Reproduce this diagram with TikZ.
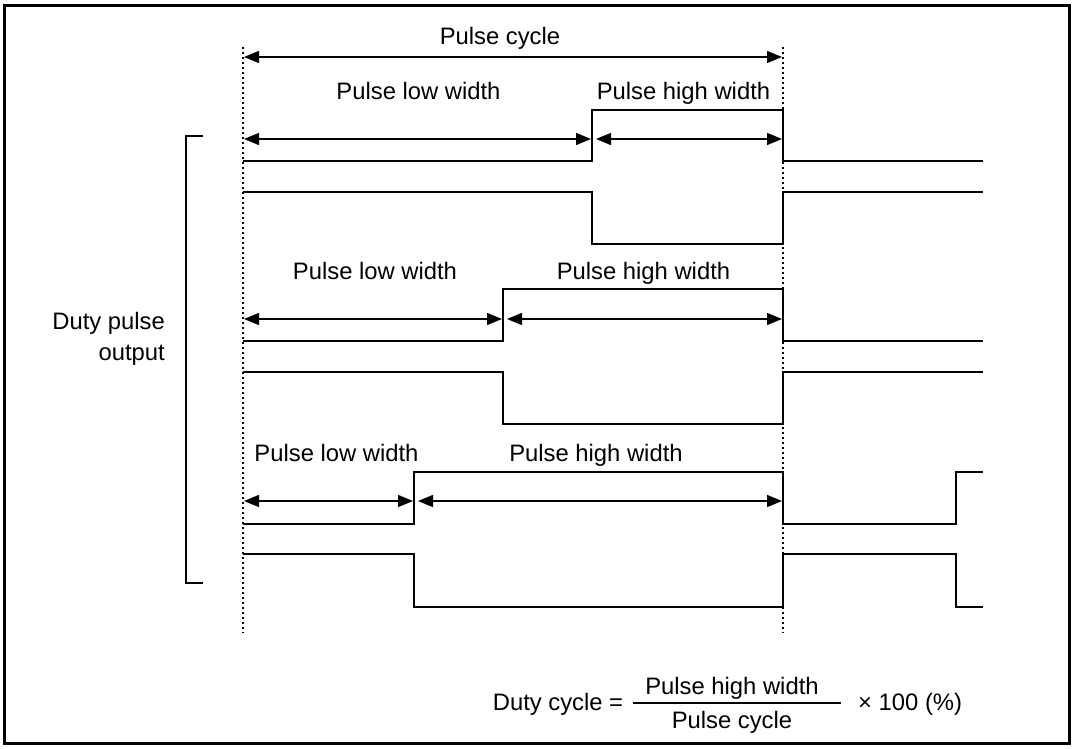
\documentclass[tikz,border=0pt]{standalone}
\usepackage{fontspec}
\setmainfont{Liberation Sans}
\usetikzlibrary{arrows.meta}
\begin{document}
\begin{tikzpicture}[x=1pt,y=-1pt,
  sig/.style={line width=1.6pt},
  dimline/.style={line width=1.4pt,{Triangle[length=15pt,width=12pt]}-{Triangle[length=15pt,width=12pt]}},
  guide/.style={line width=1.6pt,dash pattern=on 2pt off 3pt},
  lbl/.style={anchor=base,inner sep=0pt,font=\fontsize{23.8}{31}\selectfont},
  frame/.style={line width=3pt}]
\useasboundingbox (0,0) rectangle (1073,749);
\draw[frame] (4,6) rectangle (1069,743);
% guides
\coordinate (gLt) at (243,47); \coordinate (gLb) at (243,633);
\coordinate (gRt) at (783,47); \coordinate (gRb) at (783,633);
\draw[guide] (gLt) -- (gLb);
\draw[guide] (gRt) -- (gRb);
% pulse cycle
\coordinate (cA) at (244,57); \coordinate (cB) at (782,57);
\draw[dimline] (cA) -- (cB);
\node[lbl] (tcyc) at (500,45) {Pulse cycle};
% row 1
\coordinate (r1a) at (244,139); \coordinate (r1b) at (591,139);
\coordinate (r1c) at (596,139); \coordinate (r1d) at (782,139);
\draw[dimline] (r1a) -- (r1b);
\draw[dimline] (r1c) -- (r1d);
\node[lbl] (t1l) at (418.5,100) {Pulse low width};
\node[lbl] (t1h) at (683.5,100) {Pulse high width};
\draw[sig] (243,161) -- (592,161) -- (592,110) -- (783,110) -- (783,161) -- (983,161);
\draw[sig] (243,192) -- (592,192) -- (592,244) -- (783,244) -- (783,192) -- (983,192);
% row 2
\coordinate (r2a) at (244,319); \coordinate (r2b) at (502,319);
\coordinate (r2c) at (507,319); \coordinate (r2d) at (782,319);
\draw[dimline] (r2a) -- (r2b);
\draw[dimline] (r2c) -- (r2d);
\node[lbl] (t2l) at (375,279) {Pulse low width};
\node[lbl] (t2h) at (643.5,279) {Pulse high width};
\draw[sig] (243,341) -- (503,341) -- (503,289) -- (783,289) -- (783,341) -- (983,341);
\draw[sig] (243,372) -- (503,372) -- (503,424) -- (783,424) -- (783,372) -- (983,372);
% row 3
\coordinate (r3a) at (244,501); \coordinate (r3b) at (413,501);
\coordinate (r3c) at (418,501); \coordinate (r3d) at (782,501);
\draw[dimline] (r3a) -- (r3b);
\draw[dimline] (r3c) -- (r3d);
\node[lbl] (t3l) at (336.5,461) {Pulse low width};
\node[lbl] (t3h) at (596,461) {Pulse high width};
\draw[sig] (243,524) -- (414,524) -- (414,472) -- (783,472) -- (783,524) -- (956,524) -- (956,472) -- (983,472);
\draw[sig] (243,554) -- (414,554) -- (414,607) -- (783,607) -- (783,554) -- (956,554) -- (956,607) -- (983,607);
% bracket
\draw[sig] (203,136) -- (186,136) -- (186,583) -- (203,583);
\node[lbl,anchor=base east] (dpo1) at (165,329) {Duty pulse};
\node[lbl,anchor=base east] (dpo2) at (165,360) {output};
% formula
\node[lbl] (fdc) at (558,710) {Duty cycle =};
\draw[line width=1.4pt] (633,703) -- (841,703);
\node[lbl] (fnum) at (732,694) {Pulse high width};
\node[lbl] (fden) at (732,728) {Pulse cycle};
\node[lbl,anchor=base west] (fmul) at (858,710) {× 100 (\%)};
\end{tikzpicture}
\end{document}
